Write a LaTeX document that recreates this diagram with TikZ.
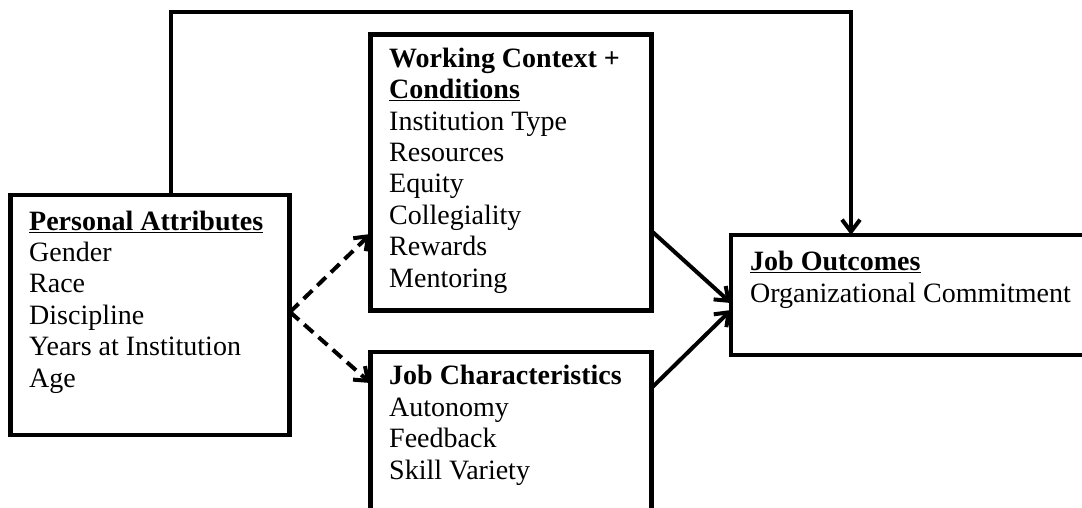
\documentclass[tikz,border=0pt]{standalone}
\usepackage{fontspec}
\setmainfont{Liberation Serif}
\usetikzlibrary{arrows.meta}
\begin{document}
\begin{tikzpicture}[x=1pt,y=-1pt,
  box/.style={draw,line width=4.5pt,rectangle,inner sep=0pt,outer sep=0pt,anchor=north west},
  txt/.style={anchor=base west,align=left,inner sep=0pt,font=\fontsize{28}{31.4}\selectfont},
  conn/.style={line width=4pt,-{Straight Barb[length=12pt,width=18pt]}},
  dconn/.style={conn,dash pattern=on 12pt off 7pt}]
\clip (0,0) rectangle (1082,507);
\fill[white] (0,0) rectangle (1082,507);
% boxes
\node[box,minimum width=279pt,minimum height=240pt] (pa) at (10.5,195) {};
\node[box,minimum width=281pt,minimum height=276pt] (wc) at (370.5,34.5) {};
\node[box,minimum width=281pt,minimum height=200pt] (jc) at (370.5,352) {};
\node[box,minimum width=400pt,minimum height=120pt] (jo) at (731,235) {};
% texts (anchored at the baseline of the last line)
\node[txt] (pat) at (29,387) {\textbf{\underline{Personal Attributes}}\\Gender\\Race\\Discipline\\Years at Institution\\Age};
\node[txt] (wct) at (389,287) {\textbf{Working Context +}\\\textbf{\underline{Conditions}}\\Institution Type\\Resources\\Equity\\Collegiality\\Rewards\\Mentoring};
\node[txt] (jct) at (389,479) {\textbf{Job Characteristics}\\Autonomy\\Feedback\\Skill Variety};
\node[txt] (jot) at (750,302) {\textbf{\underline{Job Outcomes}}\\Organizational Commitment};
% connectors
\coordinate (v) at (290,312);
\coordinate (t1) at (171,12);
\coordinate (t2) at (851,12);
\draw[dconn] (v) -- (wc.west |- 0,234);
\draw[dconn] (v) -- (jc.west |- 0,383);
\draw[conn] (wc.east |- 0,231) -- (jo.west |- 0,303);
\draw[conn] (jc.east |- 0,388) -- (jo.west |- 0,310);
\draw[conn,line join=miter] (pa.north -| t1) -- (t1) -- (t2) -- (jo.north -| t2);
\end{tikzpicture}
\end{document}
